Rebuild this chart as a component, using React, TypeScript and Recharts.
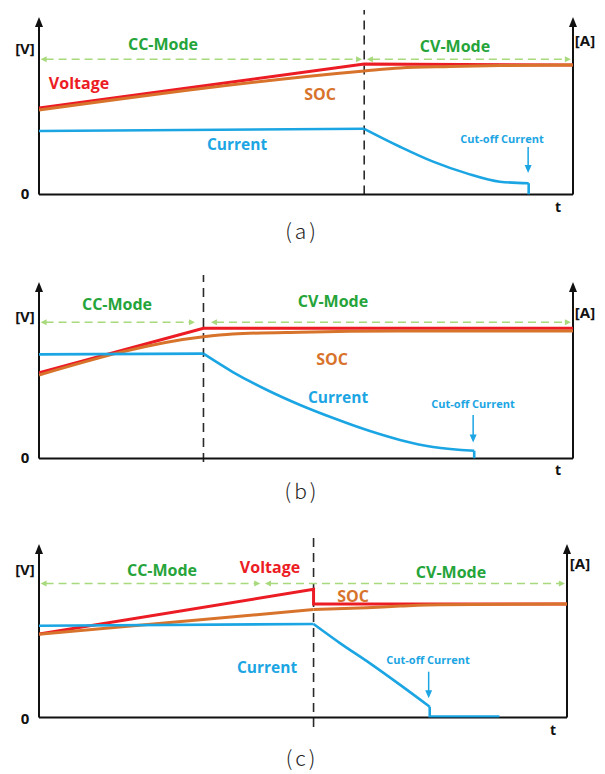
import React from "react";
import { LineChart, Line, XAxis, YAxis, ReferenceLine } from "recharts";

// time runs 0..100 between the two vertical axes, level runs 0..100 from the t axis to the arrow tips
type Pt = { t: number; v: number };

// (a)
const voltageA: Pt[] = [{ t: 0, v: 48.7 }, { t: 60.9, v: 73.5 }, { t: 100, v: 73.0 }];
const socA: Pt[] = [{ t: 0, v: 47.6 }, { t: 60.9, v: 69.6 }, { t: 67.6, v: 71.3 }, { t: 77, v: 72.1 }, { t: 86.3, v: 72.7 }, { t: 100, v: 73.0 }];
const currentCcA: Pt[] = [{ t: 0, v: 35.8 }, { t: 60.9, v: 37.0 }];
const currentCvA: Pt[] = [{ t: 60.9, v: 37.0 }, { t: 67.6, v: 26.9 }, { t: 73.8, v: 18.5 }, { t: 80.1, v: 11.9 }, { t: 86.3, v: 7.2 }, { t: 91.7, v: 6.3 }];
const cutoffA: Pt[] = [{ t: 91.7, v: 6.3 }, { t: 91.7, v: 0 }];
const switchA = 60.9;

// (b)
const voltageB: Pt[] = [{ t: 0, v: 48.6 }, { t: 30.8, v: 73.8 }, { t: 100, v: 73.8 }];
const socB: Pt[] = [{ t: 0, v: 47.3 }, { t: 30.8, v: 69.0 }, { t: 36.3, v: 70.5 }, { t: 48.9, v: 71.6 }, { t: 67.6, v: 72.2 }, { t: 100, v: 72.2 }];
const currentCcB: Pt[] = [{ t: 0, v: 59.0 }, { t: 30.8, v: 59.4 }];
const currentCvB: Pt[] = [{ t: 30.8, v: 59.4 }, { t: 36.3, v: 49.0 }, { t: 42.7, v: 38.8 }, { t: 48.9, v: 30.3 }, { t: 55.1, v: 22.9 }, { t: 61.4, v: 16.1 }, { t: 67.6, v: 10.5 }, { t: 73.8, v: 6.5 }, { t: 81.5, v: 4.4 }];
const cutoffB: Pt[] = [{ t: 81.5, v: 4.4 }, { t: 81.5, v: 0 }];
const switchB = 30.8;

// (c)
const voltageC: Pt[] = [{ t: 0, v: 48.1 }, { t: 52.0, v: 73.9 }, { t: 52.0, v: 65.4 }, { t: 100, v: 65.4 }];
const socCcC: Pt[] = [{ t: 0, v: 48.0 }, { t: 52.0, v: 62.2 }];
const socCvC: Pt[] = [{ t: 52.0, v: 62.2 }, { t: 62.1, v: 63.3 }, { t: 68.4, v: 64.2 }, { t: 75.9, v: 65.0 }, { t: 100, v: 65.4 }];
const currentCcC: Pt[] = [{ t: 0, v: 52.9 }, { t: 52.0, v: 53.9 }];
const currentCvC: Pt[] = [{ t: 52.0, v: 53.9 }, { t: 57.0, v: 42.9 }, { t: 62.7, v: 31.2 }, { t: 68.4, v: 18.8 }, { t: 74.0, v: 6.2 }];
const cutoffC: Pt[] = [{ t: 74.0, v: 6.2 }, { t: 74.0, v: 0.6 }, { t: 87.2, v: 0.6 }];
const switchC = 52.0;

const RED = "#ec1c24";
const ORANGE = "#d8732c";
const BLUE = "#1ba5e3";
const GREEN = "#25a43a";
const LIGHT_GREEN = "#a8d97c";
const INK = "#111";
const FONT = "'Open Sans', 'Noto Sans', sans-serif";
const CAPTION = "'Noto Sans CJK KR', 'Noto Sans', sans-serif";

function Arrow(props: any) {
  const { x1, y1, x2, y2, stroke, strokeWidth, strokeDasharray, head = "end", size = 8, spread = 7 } = props;
  if ([x1, y1, x2, y2].some((n) => typeof n !== "number" || Number.isNaN(n))) return null;
  const dx = x2 - x1;
  const dy = y2 - y1;
  const len = Math.hypot(dx, dy) || 1;
  const ux = dx / len;
  const uy = dy / len;
  const tri = (tx: number, ty: number, dx1: number, dy1: number) => {
    const bx = tx - dx1 * size;
    const by = ty - dy1 * size;
    const px = -dy1 * (spread / 2);
    const py = dx1 * (spread / 2);
    return `${tx},${ty} ${bx + px},${by + py} ${bx - px},${by - py}`;
  };
  const hasEnd = head === "end" || head === "both";
  const hasStart = head === "start" || head === "both";
  const sx = hasStart ? x1 + ux * (size - 1) : x1;
  const sy = hasStart ? y1 + uy * (size - 1) : y1;
  const ex = hasEnd ? x2 - ux * (size - 1) : x2;
  const ey = hasEnd ? y2 - uy * (size - 1) : y2;
  return (
    <g>
      <line x1={sx} y1={sy} x2={ex} y2={ey} stroke={stroke} strokeWidth={strokeWidth} strokeDasharray={strokeDasharray} />
      {hasEnd && <polygon points={tri(x2, y2, ux, uy)} fill={stroke} />}
      {hasStart && <polygon points={tri(x1, y1, -ux, -uy)} fill={stroke} />}
    </g>
  );
}

type Txt = { x: number; y: number; text: string; color: string; size: number; weight?: number; family?: string; spacing?: number };

type PanelProps = {
  top: number;
  height: number;
  margin: { top: number; right: number; bottom: number; left: number };
  voltage: Pt[];
  soc: Pt[][];
  currentCc: Pt[];
  currentCv: Pt[];
  cutoff: Pt[];
  switchT: number;
  switchBottom: number;
  modeY: number;
  ccEnd: number;
  cvStart: number;
  arrowT: number;
  arrowFrom: number;
  arrowTo: number;
  texts: Txt[];
};

function Panel(p: PanelProps) {
  return (
    <div style={{ position: "absolute", left: 0, top: p.top }}>
      <LineChart width={605} height={p.height} margin={p.margin} style={{ overflow: "visible" }}>
        <XAxis type="number" dataKey="t" domain={[0, 100]} hide allowDataOverflow />
        <YAxis type="number" dataKey="v" domain={[0, 100]} hide allowDataOverflow />
        <ReferenceLine
          segment={[{ x: p.switchT, y: p.switchBottom }, { x: p.switchT, y: 104 }]}
          ifOverflow="visible"
          stroke="#2a2a2a"
          strokeWidth={1.6}
          strokeDasharray="9 6"
        />
        <ReferenceLine segment={[{ x: 0, y: 0 }, { x: 100, y: 0 }]} ifOverflow="visible" stroke={INK} strokeWidth={2} />
        <ReferenceLine
          segment={[{ x: 0, y: 0 }, { x: 0, y: 100 }]}
          ifOverflow="visible"
          stroke={INK}
          strokeWidth={2}
          shape={(s: any) => <Arrow {...s} head="end" size={10} spread={8} />}
        />
        <ReferenceLine
          segment={[{ x: 100, y: 0 }, { x: 100, y: 100 }]}
          ifOverflow="visible"
          stroke={INK}
          strokeWidth={2}
          shape={(s: any) => <Arrow {...s} head="end" size={10} spread={8} />}
        />
        <ReferenceLine
          segment={[{ x: 0.3, y: p.modeY }, { x: p.ccEnd, y: p.modeY }]}
          ifOverflow="visible"
          stroke={LIGHT_GREEN}
          strokeWidth={1.5}
          strokeDasharray="8 5"
          shape={(s: any) => <Arrow {...s} head="both" size={6} spread={6} />}
        />
        <ReferenceLine
          segment={[{ x: p.cvStart, y: p.modeY }, { x: 99.6, y: p.modeY }]}
          ifOverflow="visible"
          stroke={LIGHT_GREEN}
          strokeWidth={1.5}
          strokeDasharray="8 5"
          shape={(s: any) => <Arrow {...s} head="both" size={6} spread={6} />}
        />
        <ReferenceLine
          segment={[{ x: p.arrowT, y: p.arrowFrom }, { x: p.arrowT, y: p.arrowTo }]}
          ifOverflow="visible"
          stroke={BLUE}
          strokeWidth={1.5}
          shape={(s: any) => <Arrow {...s} head="end" size={8} spread={7} />}
        />
        <Line data={p.voltage} dataKey="v" type="linear" stroke={RED} strokeWidth={3} dot={false} isAnimationActive={false} />
        {p.soc.map((seg, i) => (
          <Line key={`soc${i}`} data={seg} dataKey="v" type={i === 0 && p.soc.length > 1 ? "linear" : "monotone"} stroke={ORANGE} strokeWidth={3} dot={false} isAnimationActive={false} />
        ))}
        <Line data={p.currentCc} dataKey="v" type="linear" stroke={BLUE} strokeWidth={2.6} dot={false} isAnimationActive={false} />
        <Line data={p.currentCv} dataKey="v" type="monotone" stroke={BLUE} strokeWidth={2.6} dot={false} isAnimationActive={false} />
        <Line data={p.cutoff} dataKey="v" type="linear" stroke={BLUE} strokeWidth={2.6} dot={false} isAnimationActive={false} />
        {p.texts.map((t, i) => (
          <text
            key={i}
            x={t.x}
            y={t.y}
            textAnchor="middle"
            dominantBaseline="central"
            fill={t.color}
            fontSize={t.size}
            fontWeight={t.weight ?? 700}
            fontFamily={t.family ?? FONT}
            letterSpacing={t.spacing}
          >
            {t.text}
          </text>
        ))}
      </LineChart>
    </div>
  );
}

function axisTexts(vY: number, aX: number, aY: number, zeroY: number, tX: number, tY: number, cap: string, capY: number): Txt[] {
  return [
    { x: 25, y: vY, text: "[V]", color: INK, size: 15 },
    { x: aX, y: aY, text: "[A]", color: INK, size: 15 },
    { x: 25, y: zeroY, text: "0", color: INK, size: 15 },
    { x: tX, y: tY, text: "t", color: INK, size: 14 },
    { x: 302, y: capY, text: cap, color: "#222", size: 21, weight: 300, family: CAPTION, spacing: 3 },
  ];
}

export default function App() {
  return (
    <div style={{ position: "absolute", left: 0, top: 0, width: 605, height: 774, background: "#fff", overflow: "hidden" }}>
      <Panel
        top={0}
        height={258}
        margin={{ top: 17, right: 32, bottom: 63.5, left: 39 }}
        voltage={voltageA}
        soc={[socA]}
        currentCc={currentCcA}
        currentCv={currentCvA}
        cutoff={cutoffA}
        switchT={switchA}
        switchBottom={0}
        modeY={76.2}
        ccEnd={60.5}
        cvStart={61.4}
        arrowT={91.6}
        arrowFrom={26.8}
        arrowTo={12.1}
        texts={[
          ...axisTexts(48, 585, 40, 193, 558, 206, "(a)", 230),
          { x: 163, y: 44, text: "CC-Mode", color: GREEN, size: 16 },
          { x: 455, y: 46, text: "CV-Mode", color: GREEN, size: 16 },
          { x: 79, y: 83, text: "Voltage", color: RED, size: 16 },
          { x: 320, y: 94, text: "SOC", color: ORANGE, size: 16 },
          { x: 237, y: 144, text: "Current", color: BLUE, size: 15.5 },
          { x: 502, y: 138, text: "Cut-off Current", color: BLUE, size: 11 },
        ]}
      />
      <Panel
        top={258}
        height={262}
        margin={{ top: 24, right: 32, bottom: 61.5, left: 39 }}
        voltage={voltageB}
        soc={[socB]}
        currentCc={currentCcB}
        currentCv={currentCvB}
        cutoff={cutoffB}
        switchT={switchB}
        switchBottom={-2}
        modeY={77.2}
        ccEnd={29.2}
        cvStart={32.2}
        arrowT={81.3}
        arrowFrom={24.6}
        arrowTo={9.0}
        texts={[
          ...axisTexts(58, 585, 54, 199, 558, 211, "(b)", 232),
          { x: 117, y: 46, text: "CC-Mode", color: GREEN, size: 16 },
          { x: 333, y: 43, text: "CV-Mode", color: GREEN, size: 16 },
          { x: 332, y: 101, text: "SOC", color: ORANGE, size: 16 },
          { x: 338, y: 139, text: "Current", color: BLUE, size: 15.5 },
          { x: 473, y: 145, text: "Cut-off Current", color: BLUE, size: 11 },
        ]}
      />
      <Panel
        top={520}
        height={254}
        margin={{ top: 24, right: 38, bottom: 56.5, left: 39 }}
        voltage={voltageC}
        soc={[socCcC, socCvC]}
        currentCc={currentCcC}
        currentCv={currentCvC}
        cutoff={cutoffC}
        switchT={switchC}
        switchBottom={-5.5}
        modeY={77.3}
        ccEnd={41.9}
        cvStart={42.8}
        arrowT={73.8}
        arrowFrom={26.4}
        arrowTo={11.1}
        texts={[
          ...axisTexts(49, 580, 43, 198, 553, 209, "(c)", 237),
          { x: 162, y: 50, text: "CC-Mode", color: GREEN, size: 16 },
          { x: 270, y: 47, text: "Voltage", color: RED, size: 16 },
          { x: 451, y: 52, text: "CV-Mode", color: GREEN, size: 16 },
          { x: 353, y: 76, text: "SOC", color: ORANGE, size: 16 },
          { x: 267, y: 147, text: "Current", color: BLUE, size: 15.5 },
          { x: 428, y: 139, text: "Cut-off Current", color: BLUE, size: 11 },
        ]}
      />
    </div>
  );
}
